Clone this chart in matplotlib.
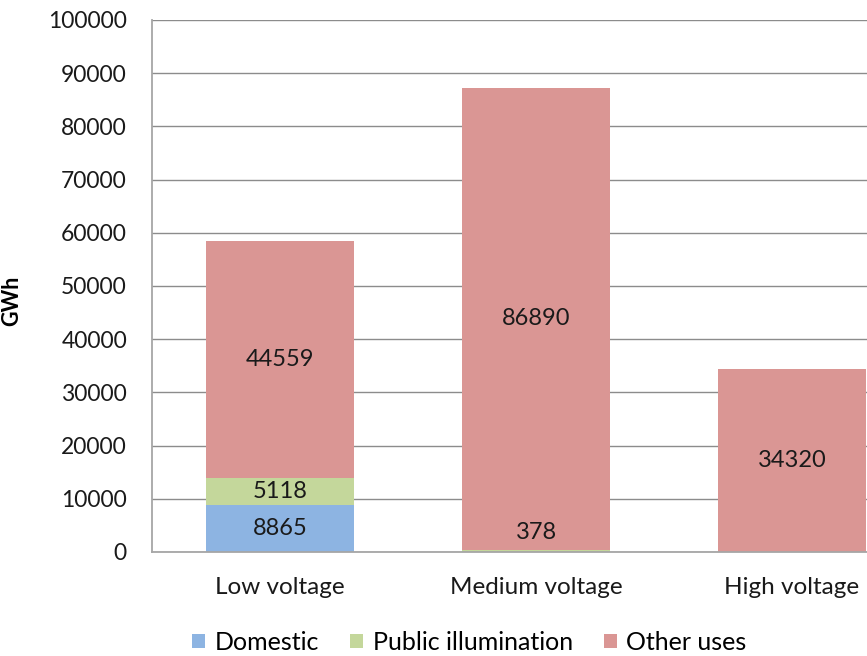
import matplotlib
matplotlib.use("Agg")
import matplotlib.pyplot as plt
import numpy as np

categories = ["Low voltage", "Medium voltage", "High voltage"]
domestic = [8865, 0, 0]
public_illumination = [5118, 378, 0]
other_uses = [44559, 86890, 34320]
series_names = ["Domestic", "Public illumination", "Other uses"]
colors = ["#8DB4E2", "#C4D79B", "#DA9694"]
yticks = list(range(0, 100001, 10000))

plt.rcParams["font.family"] = ["Lato", "DejaVu Sans"]

fig = plt.figure(figsize=(8.67, 6.56), dpi=100)
ax = fig.add_axes([152 / 867, 104 / 656, 768 / 867, 532 / 656])

x = np.arange(len(categories))
width = 0.575
bottom = np.zeros(len(categories))
for name, vals, col in zip(series_names, [domestic, public_illumination, other_uses], colors):
    vals = np.array(vals, dtype=float)
    ax.bar(x, vals, width, bottom=bottom, color=col, label=name, zorder=3)
    for xi, b, v in zip(x, bottom, vals):
        if v <= 0:
            continue
        if v < 2000:
            ax.annotate(f"{int(v)}", (xi, b + v / 2), xytext=(0, 13), textcoords="offset points",
                        ha="center", va="center", fontsize=17, color="#1a1a1a", zorder=4)
        else:
            ax.text(xi, b + v / 2, f"{int(v)}", ha="center", va="center",
                    fontsize=17, color="#1a1a1a", zorder=4)
    bottom += vals

ax.set_xlim(-0.5, 2.5)
ax.set_ylim(0, 100000)
ax.set_yticks(yticks)
ax.set_yticklabels([str(t) for t in yticks])
ax.set_xticks(x)
ax.set_xticklabels(categories)
ax.tick_params(axis="both", length=0, colors="#1a1a1a")
ax.tick_params(axis="y", pad=18, labelsize=16.5)
ax.tick_params(axis="x", pad=18, labelsize=17.5)
ax.yaxis.grid(True, color="#8C8C8C", linewidth=1.0, zorder=0)
ax.set_axisbelow(True)
for side in ["top", "right"]:
    ax.spines[side].set_visible(False)
for side in ["left", "bottom"]:
    ax.spines[side].set_color("#A6A6A6")
    ax.spines[side].set_linewidth(1.3)
    ax.spines[side].set_zorder(5)

ax.set_ylabel("GWh", fontsize=15.5, fontweight="bold")
ax.yaxis.set_label_coords(-130 / 768, 0.472)

handles, labels = ax.get_legend_handles_labels()
fig.legend(handles, labels, loc="center left", bbox_to_anchor=(192 / 867, 14 / 656), ncol=3,
           frameon=False, fontsize=18, handlelength=0.5, handleheight=0.5,
           handletextpad=0.4, columnspacing=1.25, borderpad=0.0, borderaxespad=0.0)

fig.savefig("out.png", dpi=100)
